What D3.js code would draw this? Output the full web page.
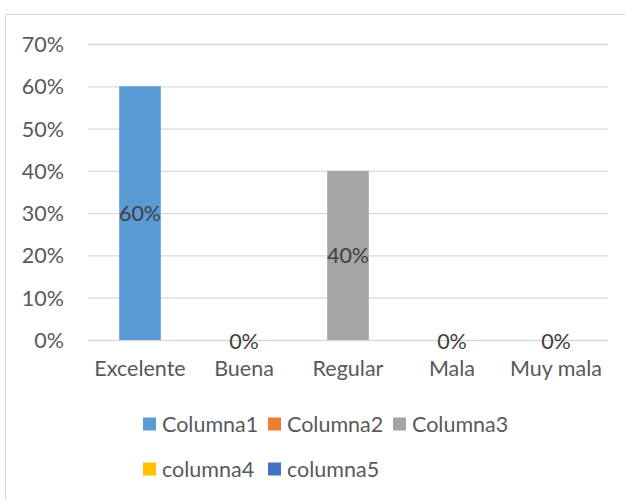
<!DOCTYPE html>
<html><head><meta charset="utf-8">
<script src="https://cdn.jsdelivr.net/npm/d3@7"></script>
<style>body{margin:0;background:#fff}svg{display:block}text{font-family:Lato,"Open Sans",sans-serif}</style>
</head><body><svg id="c" width="625" height="500"></svg>
<script>
const categories = ["Excelente","Buena","Regular","Mala","Muy mala"];
const seriesNames = ["Columna1","Columna2","Columna3","columna4","columna5"];
const values = [0.60, 0, 0.40, 0, 0];
const colors = ["#5B9BD5","#ED7D31","#A5A5A5","#FFC000","#4472C4"];
const yTicks = [0,0.1,0.2,0.3,0.4,0.5,0.6,0.7];

const svg = d3.select("#c");
svg.append("rect").attr("x",5.5).attr("y",14.5).attr("width",640).attr("height",520)
  .attr("fill","#fff").attr("stroke","#D9D9D9").attr("stroke-width",1);

const x = d3.scaleBand().domain(categories).range([88,608]).paddingInner(0.6).paddingOuter(0.3);
const y = d3.scaleLinear().domain([0,0.7]).range([340,44]);
const fs = 21.5;

const yAxis = svg.append("g").attr("transform","translate(88,0)")
  .call(d3.axisLeft(y).tickValues(yTicks).tickFormat(d3.format(".0%")).tickSize(-520).tickPadding(24));
yAxis.select(".domain").remove();
yAxis.selectAll(".tick line").attr("stroke","#D9D9D9").attr("stroke-width",1.3);
yAxis.selectAll(".tick text").attr("fill","#595959").style("font-size",fs+"px").attr("dy","0.35em");

const xAxis = svg.append("g").attr("transform","translate(0,340)")
  .call(d3.axisBottom(x).tickSize(0).tickPadding(21));
xAxis.select(".domain").remove();
xAxis.selectAll(".tick text").attr("fill","#595959").style("font-size",fs+"px");

const data = categories.map((c,i)=>({c, v: values[i], col: colors[i]}));
svg.append("g").selectAll("rect").data(data).join("rect")
  .attr("x",d=>x(d.c)).attr("width",x.bandwidth())
  .attr("y",d=>y(d.v)).attr("height",d=>y(0)-y(d.v)).attr("fill",d=>d.col);

svg.append("g").selectAll("text").data(data).join("text")
  .attr("x",d=>x(d.c)+x.bandwidth()/2)
  .attr("y",d=>(y(d.v)+y(0))/2)
  .attr("dy", d=> d.v===0 ? "0.4em" : "0.35em")
  .attr("text-anchor","middle").attr("fill","#404040").style("font-size",fs+"px")
  .text(d=>d3.format(".0%")(d.v));

// legend
const legPos = [[143,424],[268,424],[393,424],[143,469],[268,469]];
const lg = svg.append("g").selectAll("g").data(seriesNames).join("g")
  .attr("transform",(d,i)=>`translate(${legPos[i][0]},${legPos[i][1]})`);
lg.append("rect").attr("x",0).attr("y",-6.5).attr("width",13).attr("height",13).attr("fill",(d,i)=>colors[i]);
lg.append("text").attr("x",19).attr("y",0).attr("dy","0.35em").attr("fill","#595959")
  .style("font-size",fs+"px").text(d=>d);
</script></body></html>
